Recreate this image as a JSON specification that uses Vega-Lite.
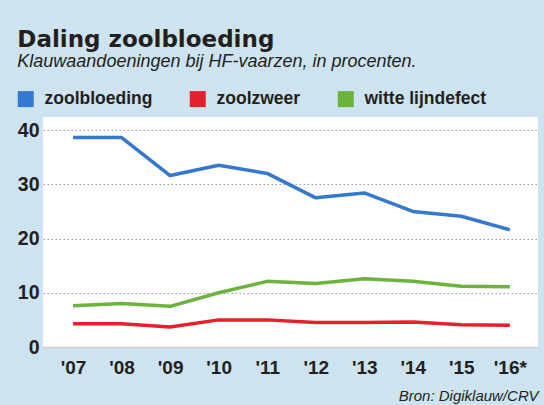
{
  "$schema": "https://vega.github.io/schema/vega-lite/v6.json",
  "width": 544,
  "height": 405,
  "autosize": {"type": "fit", "contains": "padding"},
  "padding": {"left": 17, "top": 29, "right": 6, "bottom": 2},
  "background": "#cde3ef",
  "title": {
    "text": "Daling zoolbloeding",
    "subtitle": "Klauwaandoeningen bij HF-vaarzen, in procenten.",
    "anchor": "start",
    "frame": "bounds",
    "font": "DejaVu Sans",
    "fontSize": 23,
    "fontWeight": "bold",
    "color": "#231f20",
    "subtitleFont": "Liberation Sans",
    "subtitleFontSize": 18,
    "subtitleFontStyle": "italic",
    "subtitleColor": "#231f20",
    "subtitlePadding": 1,
    "offset": 46
  },
  "config": {
    "view": {"fill": "white", "stroke": null},
    "font": "Liberation Sans"
  },
  "data": {
    "values": [
      {"year": 2007, "serie": "zoolbloeding", "value": 38.6},
      {"year": 2008, "serie": "zoolbloeding", "value": 38.6},
      {"year": 2009, "serie": "zoolbloeding", "value": 31.6},
      {"year": 2010, "serie": "zoolbloeding", "value": 33.5},
      {"year": 2011, "serie": "zoolbloeding", "value": 32.0},
      {"year": 2012, "serie": "zoolbloeding", "value": 27.5},
      {"year": 2013, "serie": "zoolbloeding", "value": 28.4},
      {"year": 2014, "serie": "zoolbloeding", "value": 25.0},
      {"year": 2015, "serie": "zoolbloeding", "value": 24.1},
      {"year": 2016, "serie": "zoolbloeding", "value": 21.6},
      {"year": 2007, "serie": "zoolzweer", "value": 4.3},
      {"year": 2008, "serie": "zoolzweer", "value": 4.3},
      {"year": 2009, "serie": "zoolzweer", "value": 3.7},
      {"year": 2010, "serie": "zoolzweer", "value": 5.0},
      {"year": 2011, "serie": "zoolzweer", "value": 5.0},
      {"year": 2012, "serie": "zoolzweer", "value": 4.5},
      {"year": 2013, "serie": "zoolzweer", "value": 4.5},
      {"year": 2014, "serie": "zoolzweer", "value": 4.6},
      {"year": 2015, "serie": "zoolzweer", "value": 4.1},
      {"year": 2016, "serie": "zoolzweer", "value": 4.0},
      {"year": 2007, "serie": "witte lijndefect", "value": 7.6},
      {"year": 2008, "serie": "witte lijndefect", "value": 8.0},
      {"year": 2009, "serie": "witte lijndefect", "value": 7.5},
      {"year": 2010, "serie": "witte lijndefect", "value": 10.0},
      {"year": 2011, "serie": "witte lijndefect", "value": 12.1},
      {"year": 2012, "serie": "witte lijndefect", "value": 11.7},
      {"year": 2013, "serie": "witte lijndefect", "value": 12.6},
      {"year": 2014, "serie": "witte lijndefect", "value": 12.1},
      {"year": 2015, "serie": "witte lijndefect", "value": 11.2},
      {"year": 2016, "serie": "witte lijndefect", "value": 11.1}
    ]
  },
  "mark": {"type": "line", "strokeWidth": 3.5, "strokeJoin": "round"},
  "encoding": {
    "x": {
      "field": "year",
      "type": "quantitative",
      "scale": {"domain": [2006.38, 2016.58], "nice": false, "zero": false},
      "axis": {
        "values": [2007, 2008, 2009, 2010, 2011, 2012, 2013, 2014, 2015, 2016],
        "labelExpr": "datum.value == 2016 ? \"'16*\" : \"'\" + substring(toString(datum.value), 2)",
        "labelFontSize": 19,
        "labelFontWeight": "bold",
        "labelColor": "#231f20",
        "labelPadding": 11,
        "grid": false,
        "ticks": false,
        "domain": true,
        "domainColor": "#cfcfcf",
        "domainWidth": 1.5,
        "title": "Bron: Digiklauw/CRV",
        "titleAnchor": "end",
        "titleAlign": "right",
        "titleFontSize": 15,
        "titleFontStyle": "italic",
        "titleFontWeight": "normal",
        "titleColor": "#231f20",
        "titlePadding": 11
      }
    },
    "y": {
      "field": "value",
      "type": "quantitative",
      "scale": {"domain": [0, 42.4], "nice": false},
      "axis": {
        "values": [0, 10, 20, 30, 40],
        "labelFontSize": 19.5,
        "labelFontWeight": "bold",
        "labelColor": "#231f20",
        "labelPadding": 4,
        "ticks": false,
        "domain": false,
        "grid": true,
        "gridColor": "#9a9a9a",
        "gridDash": [1.5, 2.5],
        "gridWidth": 1,
        "title": null
      }
    },
    "color": {
      "field": "serie",
      "type": "nominal",
      "sort": ["zoolbloeding", "zoolzweer", "witte lijndefect"],
      "scale": {
        "domain": ["zoolbloeding", "zoolzweer", "witte lijndefect"],
        "range": ["#3479cf", "#e51f2b", "#6cb33e"]
      },
      "legend": {
        "title": null,
        "orient": "none",
        "direction": "horizontal",
        "legendX": -26,
        "legendY": -27,
        "symbolType": "square",
        "symbolSize": 256,
        "symbolStrokeWidth": 0,
        "symbolOpacity": 1,
        "labelFontSize": 17.5,
        "labelFontWeight": "bold",
        "labelColor": "#231f20",
        "labelOffset": 10,
        "columnPadding": 36,
        "labelLimit": 300,
        "encode": {
          "symbols": {
            "update": {
              "fill": {"scale": "color", "field": "value"},
              "stroke": {"value": null}
            }
          }
        }
      }
    }
  }
}
